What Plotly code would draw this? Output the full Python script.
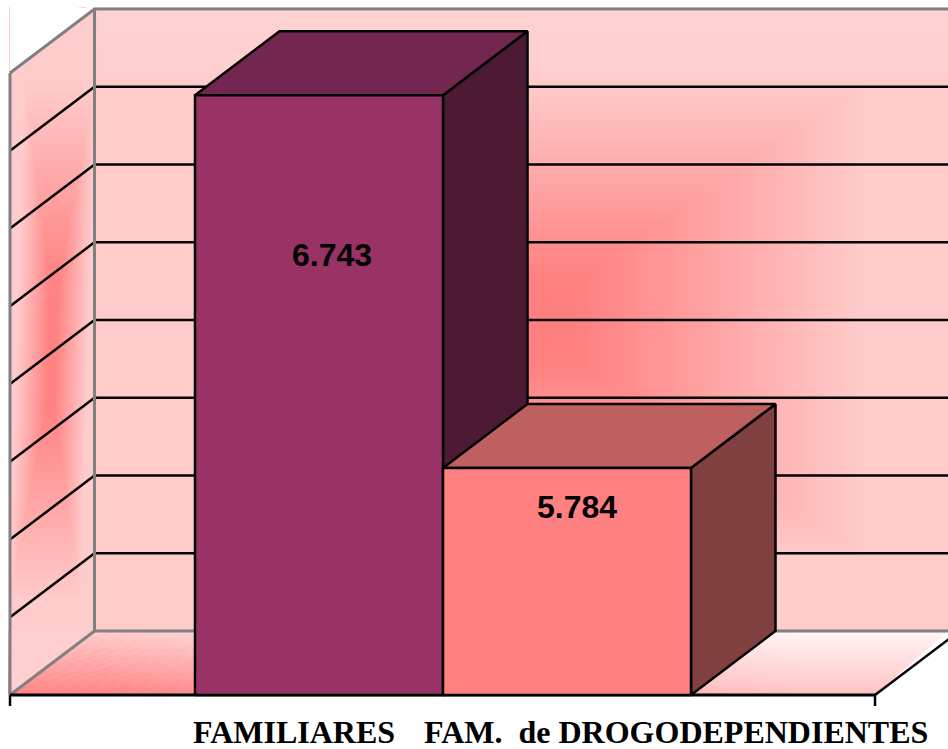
import numpy as np
import plotly.graph_objects as go

# ---- data ----
categories = ["FAMILIARES", "FAM.  de DROGODEPENDIENTES"]
values = [6743, 5784]
front_colors = ["#993366", "#FF8080"]
top_colors = ["#732650", "#BF6060"]
side_colors = ["#4D1A33", "#804040"]
gridlines = [5400, 5600, 5800, 6000, 6200, 6400, 6600]
axis_min, axis_max = 5200, 6800

W, H = 948, 749
PX_X0, PX_PER_BAR = 443.0, 248.0      # pixel of slot boundary, pixels per slot
PX_FLOOR = 695.0
PX_PER_VAL = 622.0 / (axis_max - axis_min)
DEPTH_X = 84.5 / PX_PER_BAR           # depth shift in slot units
DEPTH_Y = 64.0 / PX_PER_VAL           # depth shift in value units

x_range = [(0 - PX_X0) / PX_PER_BAR, (W - PX_X0) / PX_PER_BAR]
y_range = [axis_min - (H - PX_FLOOR) / PX_PER_VAL, axis_min + PX_FLOOR / PX_PER_VAL]
x_left = (10 - PX_X0) / PX_PER_BAR
x_right = (875 - PX_X0) / PX_PER_BAR


def px_x(u):
    return (np.asarray(u) - PX_X0) / PX_PER_BAR


def px_y(p):
    return axis_min + (PX_FLOOR - np.asarray(p)) / PX_PER_VAL


fig = go.Figure()
SCALE = [[0, "#FF8080"], [0.5, "#FFCCCC"], [1, "#FFFFFF"]]


def wall(xp, yp, t):
    fig.add_trace(go.Heatmap(x=px_x(xp), y=px_y(yp), z=t / 2, zmin=0, zmax=1, colorscale=SCALE,
                             showscale=False, zsmooth="best", hoverinfo="skip"))


# back wall shading
xp = np.arange(94, 950, 3.0)
yp = np.arange(9, 632, 3.0)
X, Y = np.meshgrid(xp, yp)
wall(xp, yp, np.clip(np.maximum(np.maximum(np.abs(X - 530) - 45, 0) / 290,
                                np.maximum(np.abs(Y - 320) - 40, 0) / 200), 0, 1)
     + 0.12 * np.clip((90 - Y) / 80, 0, 1))

# left wall shading
xp = np.arange(10, 97, 2.0)
yp = np.arange(9, 696, 4.0)
X, Y = np.meshgrid(xp, yp)
wall(xp, yp, np.clip(np.maximum(np.maximum(np.abs(X - 52 - (340 - Y) * 0.03) - 3, 0) / 33,
                                np.maximum(np.abs(Y - 343) - 60, 0) / 200), 0.04, 1))

# floor shading
xp = np.arange(10, 950, 4.0)
yp = np.arange(631, 695, 2.0)
X, Y = np.meshgrid(xp, yp)
depth = (695 - Y) / 64
across = np.clip((X - 100) / 700, 0, 1)
stripes = 0.05 * np.sign(np.sin((Y + 0.3 * X) * 1.3))
wall(xp, yp, np.clip(0.05 + 0.95 * depth + 0.8 * across + stripes * (1 - across), 0, 2))


def poly(xs, ys, fill=None, line="black", width=2.5):
    fig.add_trace(go.Scatter(
        x=list(xs), y=list(ys), mode="lines" if line else "none",
        fill="toself" if fill else "none", fillcolor=fill,
        line=dict(color=line or "rgba(0,0,0,0)", width=width, simplify=False),
        hoverinfo="skip", showlegend=False))


# white outside the room
poly([x_left, x_left, x_left + DEPTH_X], [axis_max, y_range[1], axis_max + DEPTH_Y], "white", None)
poly([x_left, x_left + DEPTH_X, x_left + DEPTH_X], [axis_max, axis_max + DEPTH_Y, y_range[1]], "white", None)
poly([x_right, x_range[1], x_range[1], x_right], [axis_min, axis_min, axis_min + DEPTH_Y, axis_min], "white", None)
# bottom of the left wall, in front of the floor shading
poly([x_left, x_left, x_left + DEPTH_X], [axis_min, axis_min + DEPTH_Y, axis_min + DEPTH_Y], "#FFCECE", None)

# gridlines: left wall then back wall
for g in gridlines:
    poly([x_left, x_left + DEPTH_X, x_range[1]], [g, g + DEPTH_Y, g + DEPTH_Y])

# room frame
GRAY = "#808080"
poly([x_left, x_left + DEPTH_X, x_range[1]], [axis_max, axis_max + DEPTH_Y, axis_max + DEPTH_Y], None, GRAY, 3)
poly([x_left, x_left], [axis_min, axis_max], None, GRAY, 3)
poly([x_left + DEPTH_X, x_left + DEPTH_X], [axis_min + DEPTH_Y, axis_max + DEPTH_Y], None, GRAY, 3)
poly([x_left, x_left + DEPTH_X, x_range[1]], [axis_min, axis_min + DEPTH_Y, axis_min + DEPTH_Y], None, GRAY, 3)

# floor right edge and x axis with end ticks
poly([x_right, x_right + DEPTH_X], [axis_min, axis_min + DEPTH_Y])
poly([x_left, x_right], [axis_min, axis_min], None, "black", 3)
TICK = 11 / PX_PER_VAL
poly([x_left, x_left], [axis_min, axis_min - TICK], None, "black", 2.5)
poly([x_right, x_right], [axis_min, axis_min - TICK], None, "black", 2.5)

# 3-D bars, drawn from the values
for i, v in enumerate(values):
    a, b = i - 1, i
    poly([b, b + DEPTH_X, b + DEPTH_X, b, b], [axis_min, axis_min + DEPTH_Y, v + DEPTH_Y, v, axis_min], side_colors[i])
    poly([a, b, b + DEPTH_X, a + DEPTH_X, a], [v, v, v + DEPTH_Y, v + DEPTH_Y, v], top_colors[i])
    poly([a, b, b, a, a], [axis_min, axis_min, v, v, axis_min], front_colors[i])

# value labels
label_y = [258, 510]
label_x = [332, 577]
fig.add_trace(go.Scatter(
    x=px_x(label_x), y=px_y(label_y), mode="text",
    text=[f"{v:,}".replace(",", ".") for v in values], textposition="middle center",
    textfont=dict(family="Liberation Sans", size=32, color="black"),
    texttemplate="<b>%{text}</b>", hoverinfo="skip", showlegend=False))

# category labels
cat_x = [193, 424]
for c, xpx in zip(categories, cat_x):
    fig.add_annotation(x=float(px_x(xpx)), y=float(px_y(732)), text=f"<b>{c}</b>", showarrow=False,
                       xanchor="left", yanchor="middle", xshift=-2,
                       font=dict(family="Liberation Serif", size=32, color="black"))

fig.update_xaxes(range=x_range, visible=False, fixedrange=True)
fig.update_yaxes(range=y_range, visible=False, fixedrange=True)
fig.update_layout(width=W, height=H, margin=dict(l=0, r=0, t=0, b=0), paper_bgcolor="white",
                  plot_bgcolor="white", showlegend=False)
fig.write_html("out.html", config=dict(displayModeBar=False),
               post_script="document.body.style.margin='0';document.body.style.overflow='hidden';")
